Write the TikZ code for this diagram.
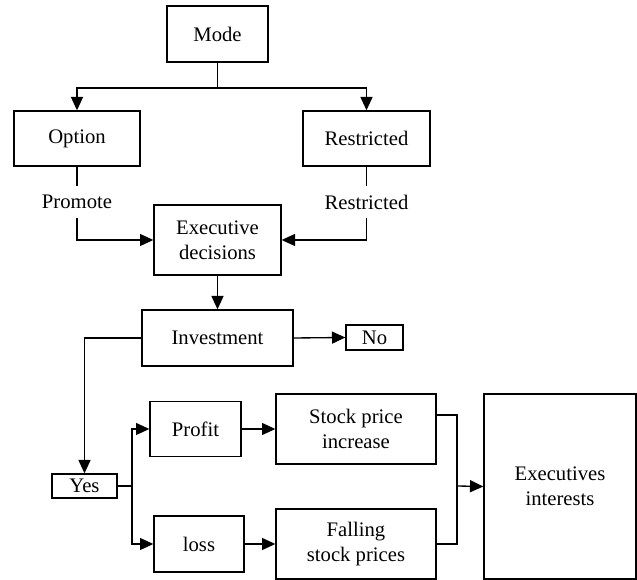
\documentclass[tikz,border=0pt]{standalone}
\usepackage{fontspec}
\setmainfont{Liberation Serif}
\usetikzlibrary{arrows.meta,positioning}

\begin{document}
\begin{tikzpicture}[
            x=0.75pt, y=-0.75pt,
            font=\fontsize{15.5}{18.75}\selectfont,
            box/.style={rectangle, draw, align=center, inner sep=2pt, line width=1pt},
            lbl/.style={inner sep=0pt, minimum height=23pt, fill=white},
            arrow/.style={-{Triangle[length=10pt,width=9pt]}, line width=1pt},
            line/.style={line width=1pt}
        ]
            \useasboundingbox (0,0) rectangle (637,580);

            % --- top part ---
            \node[box, minimum width=75.75pt, minimum height=42pt] (mode) at (217.5,34) {Mode};
            \node[box, minimum width=94.5pt, minimum height=41.25pt] (option) at (77,138.5) {Option};
            \node[box, minimum width=95.25pt, minimum height=41.25pt] (restr) at (366.5,138.5) {Restricted};
            \coordinate (split) at (217.5,88);

            \draw[line] (mode.south) -- (split);
            \draw[arrow] (split) -| (option.north);
            \draw[arrow] (split) -| (restr.north);

            % --- decisions ---
            \node[box, minimum width=95.25pt, minimum height=52.5pt] (exec) at (217.5,240) {Executive\\decisions};
            \node[lbl] (promote) at (77,202) {Promote};
            \node[lbl] (restrlbl) at (366.5,202) {Restricted};

            \draw[line] (option.south) -- (promote.north);
            \draw[arrow] (promote.south) |- (exec.west);
            \draw[line] (restr.south) -- (restrlbl.north);
            \draw[arrow] (restrlbl.south) |- (exec.east);

            % --- investment ---
            \node[box, minimum width=113.25pt, minimum height=42pt] (invest) at (217.5,338) {Investment};
            \node[box, minimum width=42.75pt, minimum height=18.75pt, inner sep=0pt] (no) at (374.5,337.5) {No};
            \node[box, minimum width=48.75pt, minimum height=18pt, inner sep=0pt] (yes) at (84.5,486) {Yes};

            \draw[arrow] (exec.south) -- (invest.north);
            \draw[arrow] (invest.east) -- (no.west);
            \draw[arrow] (invest.west) -| (yes.north);

            % --- outcomes ---
            \node[box, minimum width=68.25pt, minimum height=41.25pt] (profit) at (195.5,429) {Profit};
            \node[box, minimum width=67.5pt, minimum height=42pt] (loss) at (199,544) {loss};
            \node[box, minimum width=120pt, minimum height=52.5pt] (stockup) at (356,429) {Stock price\\increase};
            \node[box, minimum width=120pt, minimum height=52.5pt] (stockdown) at (356,544) {Falling\\stock prices};
            \node[box, minimum width=114pt, minimum height=138.75pt] (interest) at (560,486.5) {Executives\\interests};
            \coordinate (fork) at (132,486);
            \coordinate (join) at (457,486);

            \draw[line] (yes.east) -- (fork);
            \draw[arrow] (fork) |- (profit.west);
            \draw[arrow] (fork) |- (loss.west);
            \draw[arrow] (profit.east) -- (stockup.west);
            \draw[arrow] (loss.east) -- (stockdown.west);
            \draw[line] ([yshift=10.5pt]stockup.east) -| (join) |- (stockdown.east);
            \draw[arrow] (join) -- (interest.west);

        \end{tikzpicture}
\end{document}
